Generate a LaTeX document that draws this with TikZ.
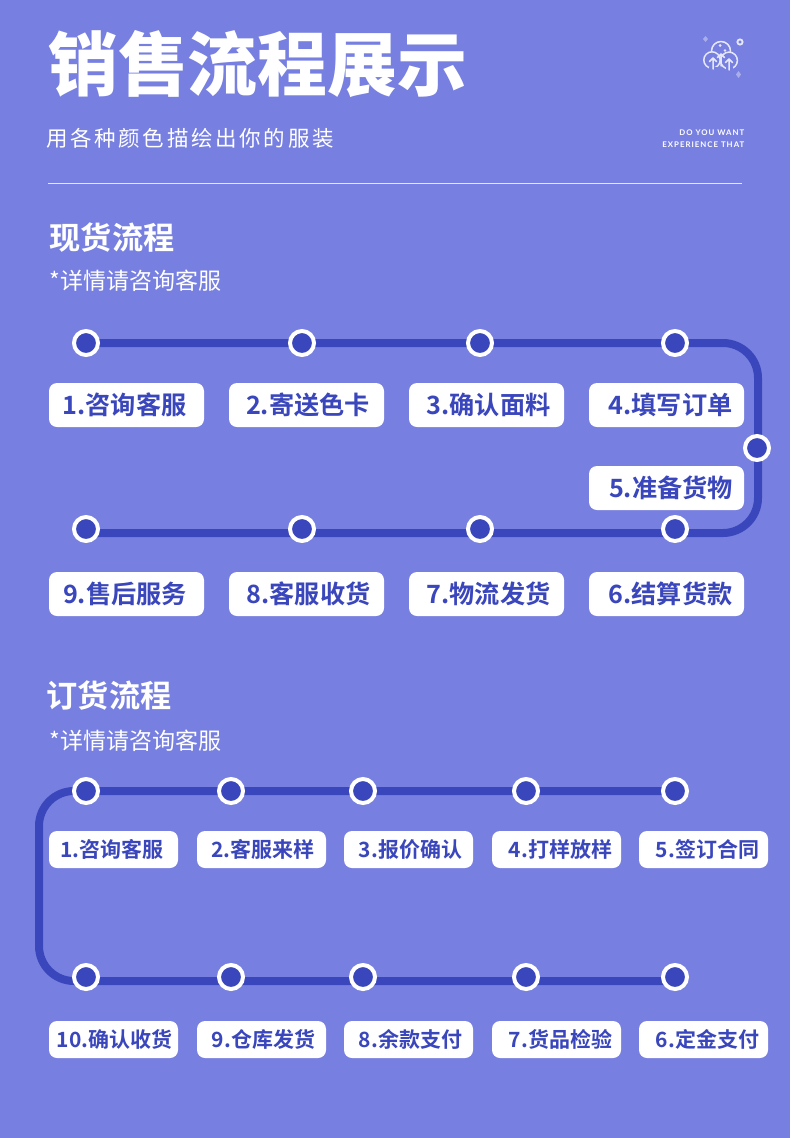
\documentclass[tikz,border=0pt]{standalone}
\usepackage{fontspec}
\setmainfont{Noto Sans CJK SC}[BoldFont={Noto Sans CJK SC Bold}]
\newfontfamily\blackf{Noto Sans CJK SC Black}
\newfontfamily\subf[LetterSpace=12.5]{Noto Sans CJK SC}
\newfontfamily\latof[LetterSpace=13]{Lato Bold}
\definecolor{bgc}{HTML}{7780E0}
\definecolor{linec}{HTML}{3A46BC}
\definecolor{iconc}{HTML}{E6E8FA}
\definecolor{diac}{HTML}{A9AEEB}
\tikzset{
  x=1pt,y=-1pt,
  pathline/.style={draw=linec,line width=8pt,rounded corners=35pt},
  dotnode/.style={circle,fill=linec,draw=white,line width=4pt,minimum size=24pt,inner sep=0pt},
  bigbox/.style={rectangle,fill=white,rounded corners=8pt,minimum width=155pt,minimum height=44pt,inner sep=0pt,
    text=linec,font=\fontsize{25.2}{25}\selectfont\bfseries,text height=21pt,text depth=3pt},
  smallbox/.style={rectangle,fill=white,rounded corners=8pt,minimum width=129pt,minimum height=37pt,inner sep=0pt,
    text=linec,font=\fontsize{21}{22}\selectfont\bfseries,text height=18.5pt,text depth=2.5pt},
  heading/.style={anchor=west,inner sep=0pt,text=white,font=\fontsize{31.2}{31}\selectfont\bfseries},
  note/.style={anchor=west,inner sep=0pt,text=white,font=\fontsize{23}{23}\selectfont},
  tiny/.style={anchor=east,inner sep=0pt,text=white,font=\fontsize{7.8}{8}\latof},
  icon/.style={draw=iconc,line width=1.5pt,line cap=round,line join=round},
  iconhole/.style={icon,fill=bgc}
}
\begin{document}
\begin{tikzpicture}
\fill[bgc] (0,0) rectangle (790,1138);
\useasboundingbox (0,0) rectangle (790,1138);

\node[anchor=west,inner sep=0pt,text=white,font=\fontsize{69.8}{70}\blackf] (title) at (48,64.5) {销售流程展示};
\node[anchor=west,inner sep=0pt,text=white,font=\fontsize{21.5}{22}\subf] (sub) at (46,138) {用各种颜色描绘出你的服装};
\node[tiny] (t1) at (744.5,133) {DO YOU WANT};
\node[tiny] (t2) at (744.5,145) {EXPERIENCE THAT};
\coordinate (ruleL) at (48,183); \coordinate (ruleR) at (742,183);
\draw[draw=white!80!bgc,line width=1pt] (ruleL) -- (ruleR);

% icon: three overlapping circles, open at the foot, with up arrows
\draw[icon] (721,51) circle (9.5);
\draw[iconhole] (712,60) circle (8.2);
\draw[iconhole] (729,60.5) circle (8.4);
\fill[bgc] (709,66.5) rectangle (717,72);
\fill[bgc] (725.5,66.5) rectangle (733,72);
\draw[icon] (713,69) -- (713,58) (709.5,61.5) -- (713,58) -- (716.5,61.5);
\draw[icon] (721,66) -- (721,54) (717.5,57.5) -- (721,54) -- (724.5,57.5);
\draw[icon] (729,70) -- (729,59) (725.5,62.5) -- (729,59) -- (732.5,62.5);
\fill[iconc] (720,45.5) circle (1.5) (725,50.5) circle (1.3);
\draw[draw=iconc,line width=1.8pt] (740,42) circle (2.6);
\fill[diac] (705.5,36) -- (708,39) -- (705.5,42) -- (703,39) -- cycle;
\fill[diac] (738.5,71) -- (741,74.5) -- (738.5,78) -- (736,74.5) -- cycle;

% section 1
\node[heading] (h1) at (49.5,238) {现货流程};
\node[note] (n1) at (49.5,281) {*详情请咨询客服};

\coordinate (c1) at (758,343); \coordinate (c2) at (758,533);
\coordinate (e9) at (86,533);
\coordinate (s1) at (86,343);
\draw[pathline] (s1) -- (c1) -- (c2) -- (e9);

\node[dotnode] (a1) at (86,343) {};
\node[dotnode] (a2) at (302,343) {};
\node[dotnode] (a3) at (480,343) {};
\node[dotnode] (a4) at (675,343) {};
\node[dotnode] (a5) at (757,448) {};
\node[dotnode] (a6) at (675,529) {};
\node[dotnode] (a7) at (480,529) {};
\node[dotnode] (a8) at (302,529) {};
\node[dotnode] (a9) at (86,529) {};

\node[bigbox] (b1) at (126.5,405) {\kern-4pt 1.咨询客服};
\node[bigbox] (b2) at (306.5,405) {\kern3pt 2.寄送色卡};
\node[bigbox] (b3) at (486.5,405) {\kern4pt 3.确认面料};
\node[bigbox] (b4) at (666.5,405) {\kern8pt 4.填写订单};
\node[bigbox] (b5) at (666.5,488) {\kern9pt 5.准备货物};
\node[bigbox] (b6) at (666.5,594) {\kern8pt 6.结算货款};
\node[bigbox] (b7) at (486.5,594) {\kern4pt 7.物流发货};
\node[bigbox] (b8) at (306.5,594) {\kern4pt 8.客服收货};
\node[bigbox] (b9) at (126.5,594) {\kern-3pt 9.售后服务};

% section 2
\node[heading] (h2) at (46.5,696) {订货流程};
\node[note] (n2) at (49.5,741) {*详情请咨询客服};

\coordinate (c3) at (39,791); \coordinate (c4) at (39,981);
\coordinate (e5) at (675,981); \coordinate (s5) at (675,791);
\draw[pathline] (s5) -- (c3) -- (c4) -- (e5);

\node[dotnode] (o1) at (86,791) {};
\node[dotnode] (o2) at (231,791) {};
\node[dotnode] (o3) at (363,791) {};
\node[dotnode] (o4) at (526,791) {};
\node[dotnode] (o5) at (675,791) {};
\node[dotnode] (o6) at (675,977) {};
\node[dotnode] (o7) at (526,977) {};
\node[dotnode] (o8) at (363,977) {};
\node[dotnode] (o9) at (231,977) {};
\node[dotnode] (o10) at (86,977) {};

\node[smallbox] (q1) at (113.5,849.5) {\kern-3pt 1.咨询客服};
\node[smallbox] (q2) at (261.5,849.5) {\kern3pt 2.客服来样};
\node[smallbox] (q3) at (408.5,849.5) {\kern4pt 3.报价确认};
\node[smallbox] (q4) at (556.5,849.5) {\kern8pt 4.打样放样};
\node[smallbox] (q5) at (703.5,849.5) {\kern8pt 5.签订合同};
\node[smallbox] (q6) at (703.5,1039.5) {\kern8pt 6.定金支付};
\node[smallbox] (q7) at (556.5,1039.5) {\kern8pt 7.货品检验};
\node[smallbox] (q8) at (408.5,1039.5) {\kern4pt 8.余款支付};
\node[smallbox] (q9) at (261.5,1039.5) {\kern4pt 9.仓库发货};
\node[smallbox] (q10) at (113.5,1039.5) {\kern2pt 10.确认收货};
\end{tikzpicture}
\end{document}
